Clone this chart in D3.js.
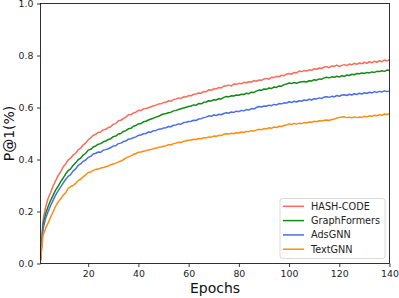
<!DOCTYPE html>
<html>
<head>
<meta charset="utf-8">
<script src="https://cdn.jsdelivr.net/npm/d3@7"></script>
<style>
  body { margin: 0; background: #fff; }
  svg { display: block; font-family: "DejaVu Sans", sans-serif; }
</style>
</head>
<body>
<svg id="chart" width="399" height="298"></svg>
<script>
// data (one value per epoch, 1..140)
const seriesNames = ["HASH-CODE", "GraphFormers", "AdsGNN", "TextGNN"];
const seriesColors = ["#fd6b5a", "#138a13", "#4a6fe3", "#ff8c0f"];
const xTicks = [20, 40, 60, 80, 100, 120, 140];
const yTicks = [0, 0.2, 0.4, 0.6, 0.8, 1.0];

const hashCode = [
  0.020, 0.165, 0.215, 0.250, 0.272, 0.298, 0.318, 0.338, 0.352, 0.371,
  0.383, 0.398, 0.405, 0.417, 0.424, 0.437, 0.444, 0.456, 0.463, 0.476,
  0.483, 0.493, 0.497, 0.504, 0.506, 0.514, 0.516, 0.523, 0.526, 0.536,
  0.538, 0.549, 0.551, 0.557, 0.563, 0.572, 0.572, 0.579, 0.582, 0.589,
  0.588, 0.595, 0.596, 0.599, 0.603, 0.607, 0.609, 0.613, 0.614, 0.619,
  0.620, 0.626, 0.624, 0.631, 0.632, 0.637, 0.635, 0.641, 0.640, 0.646,
  0.645, 0.651, 0.652, 0.656, 0.655, 0.662, 0.661, 0.668, 0.666, 0.672,
  0.671, 0.677, 0.675, 0.682, 0.684, 0.686, 0.683, 0.690, 0.689, 0.693,
  0.691, 0.697, 0.695, 0.699, 0.698, 0.703, 0.701, 0.706, 0.704, 0.710,
  0.712, 0.709, 0.716, 0.715, 0.720, 0.718, 0.724, 0.722, 0.729, 0.731,
  0.728, 0.735, 0.733, 0.740, 0.738, 0.742, 0.740, 0.745, 0.743, 0.749,
  0.747, 0.752, 0.750, 0.756, 0.757, 0.753, 0.760, 0.758, 0.763, 0.757,
  0.762, 0.765, 0.761, 0.767, 0.764, 0.770, 0.766, 0.771, 0.768, 0.774,
  0.770, 0.776, 0.772, 0.778, 0.774, 0.780, 0.776, 0.783, 0.779, 0.784
];
const graphFormers = [
  0.015, 0.150, 0.190, 0.218, 0.242, 0.262, 0.282, 0.297, 0.314, 0.328,
  0.344, 0.357, 0.364, 0.378, 0.387, 0.399, 0.405, 0.417, 0.424, 0.436,
  0.439, 0.448, 0.452, 0.459, 0.461, 0.468, 0.471, 0.477, 0.480, 0.488,
  0.490, 0.498, 0.500, 0.508, 0.511, 0.518, 0.520, 0.528, 0.531, 0.537,
  0.538, 0.545, 0.547, 0.552, 0.556, 0.559, 0.563, 0.566, 0.571, 0.575,
  0.577, 0.580, 0.582, 0.587, 0.589, 0.592, 0.595, 0.598, 0.601, 0.604,
  0.606, 0.610, 0.609, 0.615, 0.614, 0.620, 0.621, 0.626, 0.625, 0.630,
  0.629, 0.634, 0.633, 0.639, 0.642, 0.641, 0.645, 0.644, 0.648, 0.647,
  0.651, 0.650, 0.655, 0.653, 0.659, 0.658, 0.663, 0.667, 0.666, 0.671,
  0.670, 0.675, 0.673, 0.679, 0.677, 0.683, 0.682, 0.688, 0.690, 0.694,
  0.692, 0.696, 0.693, 0.697, 0.699, 0.700, 0.698, 0.703, 0.702, 0.707,
  0.705, 0.710, 0.709, 0.714, 0.716, 0.714, 0.718, 0.716, 0.720, 0.717,
  0.722, 0.720, 0.725, 0.723, 0.728, 0.726, 0.731, 0.730, 0.733, 0.731,
  0.735, 0.733, 0.737, 0.735, 0.739, 0.738, 0.741, 0.739, 0.744, 0.742
];
const adsGNN = [
  0.012, 0.132, 0.172, 0.199, 0.222, 0.243, 0.263, 0.279, 0.294, 0.309,
  0.323, 0.335, 0.342, 0.356, 0.364, 0.377, 0.383, 0.393, 0.398, 0.408,
  0.412, 0.421, 0.424, 0.429, 0.428, 0.436, 0.438, 0.441, 0.446, 0.452,
  0.453, 0.461, 0.463, 0.469, 0.471, 0.478, 0.480, 0.484, 0.487, 0.493,
  0.494, 0.499, 0.500, 0.506, 0.505, 0.511, 0.512, 0.516, 0.517, 0.521,
  0.522, 0.527, 0.526, 0.532, 0.533, 0.537, 0.536, 0.542, 0.543, 0.546,
  0.547, 0.551, 0.550, 0.556, 0.557, 0.561, 0.563, 0.568, 0.566, 0.571,
  0.569, 0.574, 0.572, 0.577, 0.580, 0.578, 0.583, 0.581, 0.586, 0.584,
  0.589, 0.587, 0.592, 0.590, 0.596, 0.594, 0.600, 0.604, 0.602, 0.606,
  0.605, 0.609, 0.607, 0.612, 0.610, 0.615, 0.614, 0.618, 0.617, 0.622,
  0.619, 0.624, 0.621, 0.626, 0.624, 0.629, 0.627, 0.632, 0.629, 0.634,
  0.633, 0.637, 0.635, 0.640, 0.641, 0.639, 0.643, 0.641, 0.646, 0.643,
  0.648, 0.649, 0.646, 0.651, 0.648, 0.653, 0.650, 0.655, 0.652, 0.657,
  0.654, 0.659, 0.656, 0.661, 0.658, 0.662, 0.660, 0.664, 0.661, 0.664
];
const textGNN = [
  0.008, 0.108, 0.135, 0.155, 0.178, 0.198, 0.220, 0.236, 0.248, 0.262,
  0.272, 0.289, 0.296, 0.300, 0.308, 0.319, 0.324, 0.333, 0.341, 0.350,
  0.352, 0.358, 0.362, 0.363, 0.367, 0.369, 0.372, 0.375, 0.380, 0.383,
  0.386, 0.390, 0.394, 0.399, 0.405, 0.410, 0.414, 0.419, 0.423, 0.428,
  0.429, 0.432, 0.434, 0.437, 0.438, 0.442, 0.443, 0.447, 0.448, 0.451,
  0.453, 0.457, 0.456, 0.461, 0.463, 0.466, 0.465, 0.470, 0.472, 0.474,
  0.475, 0.478, 0.477, 0.481, 0.480, 0.484, 0.483, 0.487, 0.486, 0.490,
  0.489, 0.493, 0.492, 0.497, 0.499, 0.498, 0.501, 0.499, 0.503, 0.502,
  0.506, 0.504, 0.508, 0.507, 0.511, 0.510, 0.513, 0.516, 0.514, 0.519,
  0.517, 0.522, 0.520, 0.525, 0.523, 0.528, 0.527, 0.531, 0.533, 0.537,
  0.535, 0.539, 0.536, 0.539, 0.538, 0.542, 0.540, 0.544, 0.543, 0.547,
  0.545, 0.549, 0.548, 0.551, 0.552, 0.550, 0.554, 0.556, 0.559, 0.562,
  0.563, 0.564, 0.561, 0.563, 0.560, 0.564, 0.561, 0.563, 0.562, 0.566,
  0.564, 0.568, 0.566, 0.570, 0.568, 0.572, 0.570, 0.575, 0.573, 0.576
];

const seriesValues = [hashCode, graphFormers, adsGNN, textGNN];

// layout
const svg = d3.select("#chart");
const plot = { left: 40.5, right: 389.5, top: 3.5, bottom: 263.5 };

const x = d3.scaleLinear().domain([1, 140]).range([plot.left, plot.right]);
const y = d3.scaleLinear().domain([0, 1]).range([plot.bottom, plot.top]);

svg.append("clipPath")
    .attr("id", "clip")
    .append("rect")
    .attr("x", plot.left)
    .attr("y", plot.top)
    .attr("width", plot.right - plot.left)
    .attr("height", plot.bottom - plot.top);

// lines
const line = d3.line()
    .x((d, i) => x(i + 1))
    .y(d => y(d));

svg.append("g")
    .attr("clip-path", "url(#clip)")
    .selectAll("path")
    .data(seriesValues)
    .enter()
    .append("path")
    .attr("d", d => line(d))
    .attr("fill", "none")
    .attr("stroke", (d, i) => seriesColors[i])
    .attr("stroke-width", 1.5)
    .attr("stroke-linejoin", "round");

// axes
const xAxis = svg.append("g")
    .attr("transform", "translate(0," + plot.bottom + ")")
    .call(d3.axisBottom(x).tickValues(xTicks).tickSize(3.5).tickPadding(3.5));

const yAxis = svg.append("g")
    .attr("transform", "translate(" + plot.left + ",0)")
    .call(d3.axisLeft(y).tickValues(yTicks).tickFormat(d3.format(".1f")).tickSize(3.5).tickPadding(3.5));

[xAxis, yAxis].forEach(a => {
    a.select(".domain").remove();
    a.selectAll("line").attr("stroke", "#000").attr("stroke-width", 0.8);
    a.selectAll("text")
        .attr("fill", "#222")
        .style("font-family", "DejaVu Sans")
        .style("font-size", "9.4px");
});

// frame
svg.append("rect")
    .attr("x", plot.left)
    .attr("y", plot.top)
    .attr("width", plot.right - plot.left)
    .attr("height", plot.bottom - plot.top)
    .attr("fill", "none")
    .attr("stroke", "#000")
    .attr("stroke-width", 0.8);

// axis labels
svg.append("text")
    .attr("x", (plot.left + plot.right) / 2)
    .attr("y", 293)
    .attr("text-anchor", "middle")
    .style("font-size", "14px")
    .attr("fill", "#111")
    .text("Epochs");

svg.append("text")
    .attr("text-anchor", "middle")
    .attr("transform", "translate(14," + (plot.top + plot.bottom) / 2 + ")rotate(-90)")
    .style("font-size", "14px")
    .attr("fill", "#111")
    .text("P@1(%)");

// legend
const legend = svg.append("g").attr("transform", "translate(280,198.5)");

legend.append("rect")
    .attr("width", 105)
    .attr("height", 60)
    .attr("rx", 2.5)
    .attr("fill", "#fff")
    .attr("fill-opacity", 0.8)
    .attr("stroke", "#d0d0d0")
    .attr("stroke-width", 0.8);

const rows = legend.selectAll("g.row")
    .data(seriesNames)
    .enter()
    .append("g")
    .attr("class", "row")
    .attr("transform", (d, i) => "translate(0," + (7.8 + i * 14.3) + ")");

rows.append("line")
    .attr("x1", 3)
    .attr("x2", 24)
    .attr("stroke", (d, i) => seriesColors[i])
    .attr("stroke-width", 1.5);

rows.append("text")
    .attr("x", 31)
    .attr("dy", "0.35em")
    .style("font-size", "9.7px")
    .attr("fill", "#222")
    .text(d => d);
</script>
</body>
</html>
